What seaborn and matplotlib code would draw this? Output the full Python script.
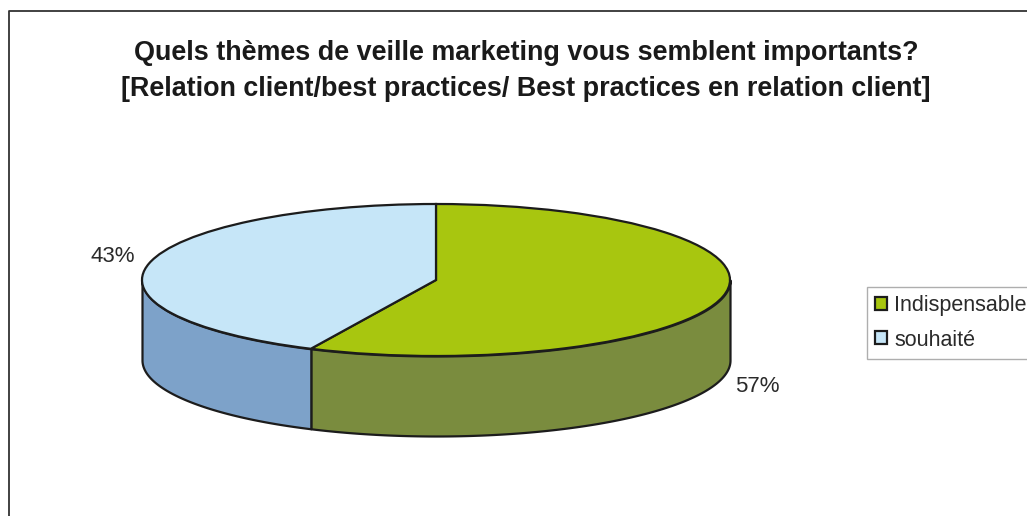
import numpy as np
import matplotlib
matplotlib.use('Agg')
import matplotlib.pyplot as plt
import seaborn as sns

# values
categories = ['Indispensable', 'souhaité']
values = [57, 43]
title_lines = ['Quels thèmes de veille marketing vous semblent importants?',
               '[Relation client/best practices/ Best practices en relation client]']

W, H = 1027, 516
top_colors = sns.color_palette(['#a8c60f', '#c6e6f8'])
side_colors = sns.color_palette(['#7a8c3e', '#7da2c9'])
edge = '#1c1c1c'
text_col = '#2a2a2a'

sns.set_theme(style='white')
plt.rcParams['font.family'] = ['Liberation Sans', 'DejaVu Sans']

fig = plt.figure(figsize=(W / 100, H / 100), dpi=100, facecolor='white')


def fx(x):
    return x / W


def fy(y):
    return 1 - y / H


# axes box = the top ellipse of the pie, radius 1 in both directions
cx, cy, rx, ry = 436, 280, 294, 76
depth = 80 / ry
ax = fig.add_axes([fx(cx - rx), fy(cy + ry), 2 * rx / W, 2 * ry / H])

# chart frame, open at right and bottom like the scan
fig.add_artist(plt.Line2D([fx(8.5), fx(8.5), 1], [0, fy(11), fy(11)],
                          color='#333333', lw=1.3))

# side wall, only the front half of the pie is seen
angles = 90 - np.cumsum([0] + values) / sum(values) * 360
wall_spans = [(angles[1], 0), (-180, angles[1])]
for (lo, hi), col in zip(wall_spans, side_colors):
    t = np.radians(np.linspace(lo, hi, 200))
    ax.fill_between(np.cos(t), np.sin(t), np.sin(t) - depth, facecolor=col,
                    edgecolor=edge, linewidth=1.6, clip_on=False, zorder=1)

wedges, _ = ax.pie(values, colors=top_colors, startangle=90, counterclock=False, radius=1,
                   wedgeprops={'edgecolor': edge, 'linewidth': 1.6, 'zorder': 2, 'clip_on': False})
ax.set_aspect('auto')
ax.set_xlim(-1, 1)
ax.set_ylim(-1, 1)
ax.axis('off')

fig.text(fx(526), fy(71), '\n'.join(title_lines), ha='center', va='center', fontsize=19.4,
         fontweight='bold', color='#1a1a1a', linespacing=1.55)

fig.text(fx(735), fy(386), f'{values[0]}%', ha='left', va='center', fontsize=16, color=text_col)
fig.text(fx(135), fy(256), f'{values[1]}%', ha='right', va='center', fontsize=16, color=text_col)

leg = fig.legend(wedges, categories, loc='upper left', bbox_to_anchor=(fx(867), fy(287)),
                 borderaxespad=0, frameon=True, fancybox=False, edgecolor='#9a9a9a',
                 fontsize=15.5, handlelength=0.56, handleheight=0.56, handletextpad=0.33,
                 labelspacing=0.62, borderpad=0.38, labelcolor=text_col)
leg.get_frame().set_linewidth(1)

fig.savefig('out.png', dpi=100)
